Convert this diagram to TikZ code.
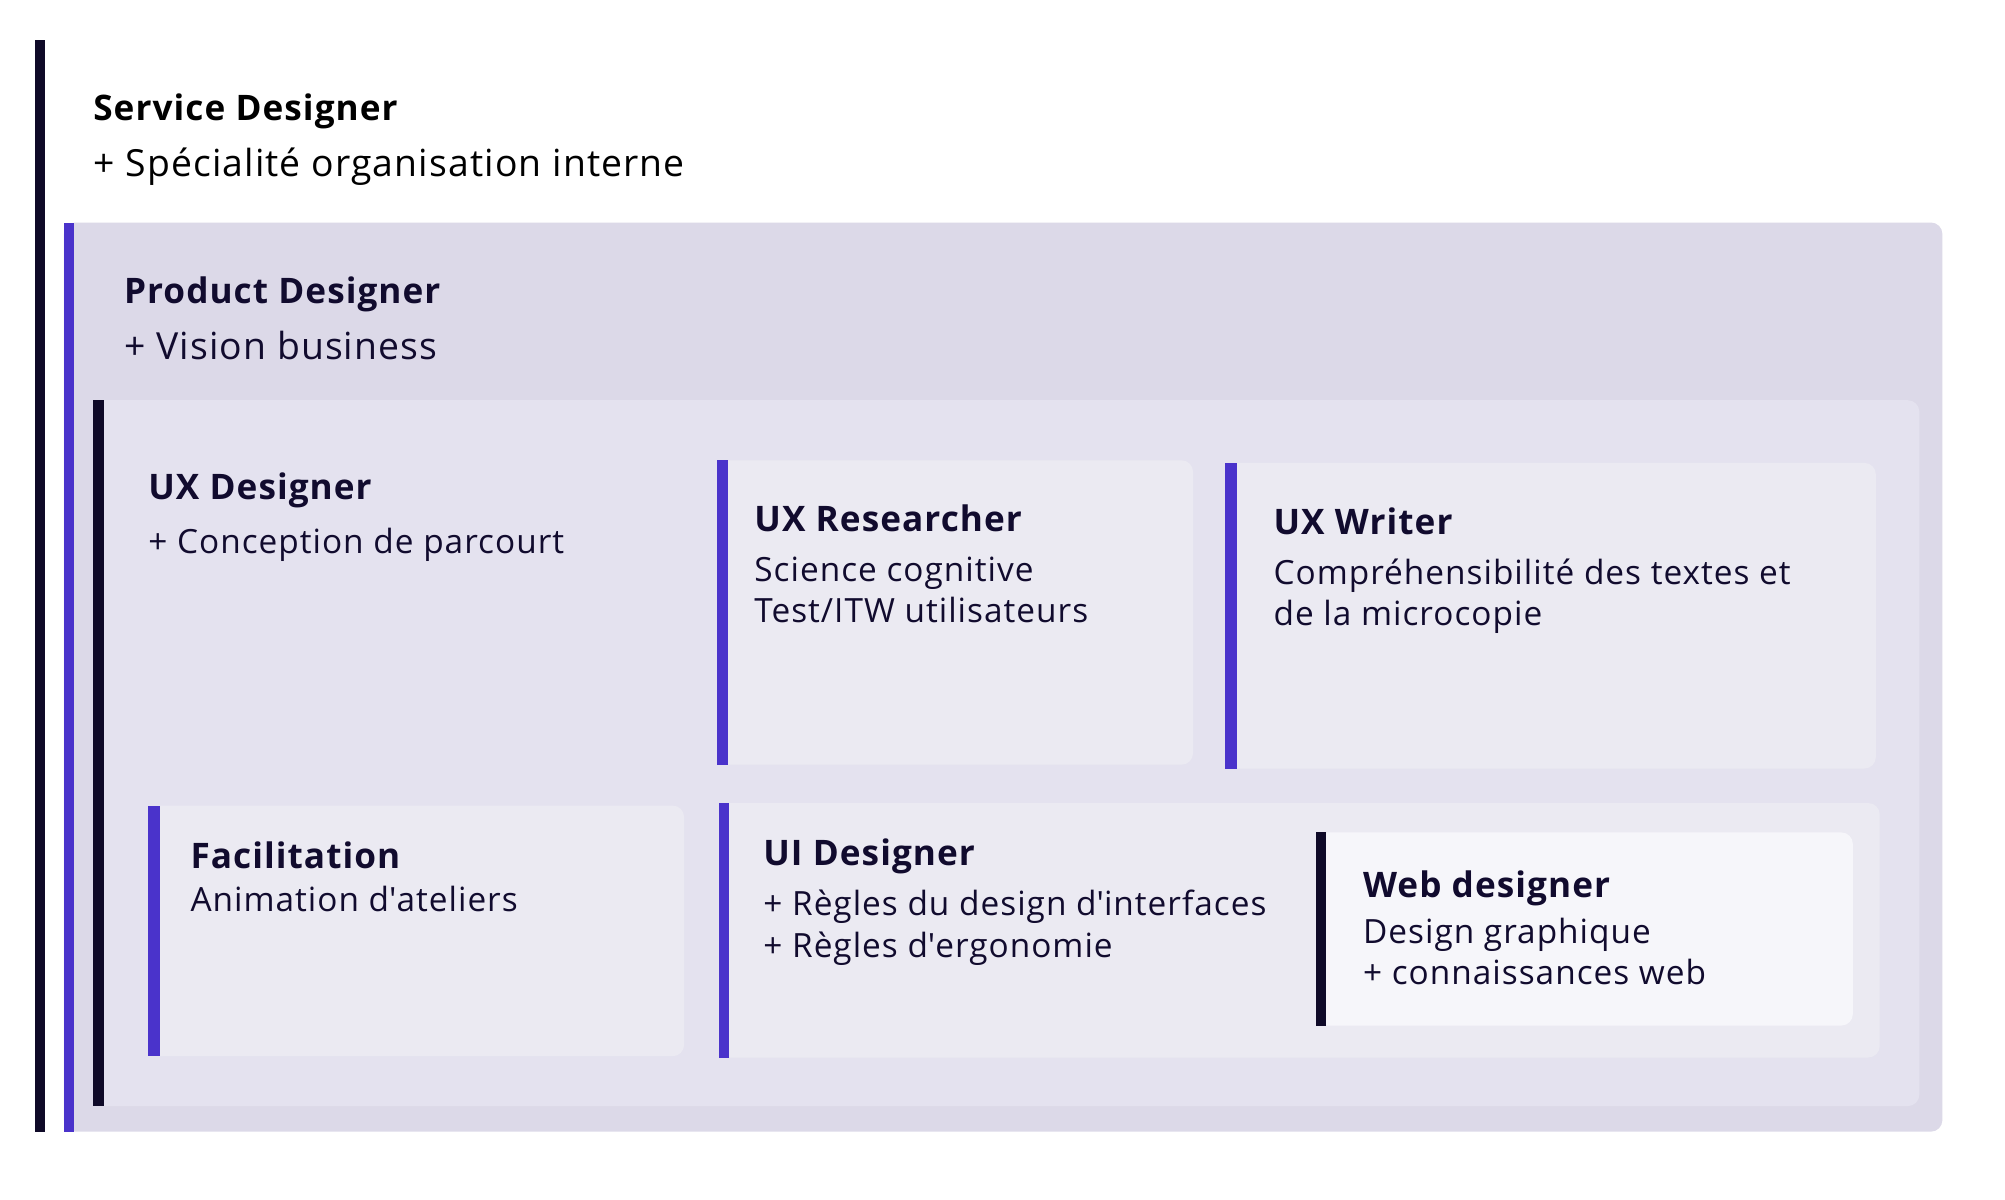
\documentclass[tikz,border=0pt]{standalone}
\usepackage{fontspec}
\setmainfont{Open Sans}[Ligatures={NoCommon}, LetterSpace=3]
\definecolor{ink}{HTML}{110B2E}
\definecolor{barink}{HTML}{0F0A28}
\definecolor{barpurple}{HTML}{4A33CB}
\definecolor{prodfill}{HTML}{DCD9E8}
\definecolor{uxfill}{HTML}{E4E2EF}
\definecolor{cardfill}{HTML}{EBEAF2}
\definecolor{webfill}{HTML}{F6F6FA}
\newcommand{\apos}{\textquotesingle}
\begin{document}
\begin{tikzpicture}[x=1pt,y=-1pt,
  every node/.style={inner sep=0pt, outer sep=0pt, text=ink},
  ttl/.style={anchor=base west, font=\fontsize{27.5}{32}\selectfont\bfseries},
  bigtxt/.style={anchor=base west, font=\fontsize{29.2}{34}\selectfont},
  txt/.style={anchor=base west, font=\fontsize{26.1}{30}\selectfont},
  panel/.style={anchor=north west, rounded corners=9pt, fill=#1},
  purplebar/.style={fill=barpurple},
  darkbar/.style={fill=barink}]
\useasboundingbox[fill=white] (0,0) rectangle (1568,938);

% Service designer
\fill[darkbar] (27,31) rectangle (35,885);
\node[ttl, text=black] (svcT) at (73,94) {Service Designer};
\node[bigtxt, text=black] (svcB) at (73,138) {+ Spécialité organisation interne};

% Product designer
\node[panel=prodfill, minimum width=1469pt, minimum height=711pt] (prod) at (50,174) {};
\fill[purplebar] (prod.north west) rectangle ([xshift=8pt]prod.south west);
\node[ttl] (prodT) at (97,237) {Product Designer};
\node[bigtxt] (prodB) at (97,281) {+ Vision business};

% UX designer
\node[panel=uxfill, minimum width=1428pt, minimum height=552pt] (ux) at (73,313) {};
\fill[darkbar] (ux.north west) rectangle ([xshift=8pt]ux.south west);
\node[ttl] (uxT) at (116,391) {UX Designer};
\node[txt] (uxB) at (116,433) {+ Conception de parcourt};

% UX researcher
\node[panel=cardfill, minimum width=372pt, minimum height=238pt] (res) at (561,360) {};
\fill[purplebar] (res.north west) rectangle ([xshift=8pt]res.south west);
\node[ttl] (resT) at (590,416) {UX Researcher};
\node[txt] (resB1) at (590,455) {Science cognitive};
\node[txt] (resB2) at (590,487) {Test/ITW utilisateurs};

% UX writer
\node[panel=cardfill, minimum width=509pt, minimum height=239pt] (wri) at (958,362) {};
\fill[purplebar] (wri.north west) rectangle ([xshift=9pt]wri.south west);
\node[ttl] (wriT) at (996,418) {UX Writer};
\node[txt] (wriB1) at (996,457) {Compréhensibilité des textes et};
\node[txt] (wriB2) at (996,489) {de la microcopie};

% Facilitation
\node[panel=cardfill, minimum width=419pt, minimum height=196pt] (fac) at (116,630) {};
\fill[purplebar] (fac.north west) rectangle ([xshift=9pt]fac.south west);
\node[ttl] (facT) at (149,679) {Facilitation};
\node[txt] (facB) at (149,713) {Animation d\apos ateliers};

% UI designer
\node[panel=cardfill, minimum width=908pt, minimum height=199pt] (ui) at (562,628) {};
\fill[purplebar] (ui.north west) rectangle ([xshift=8pt]ui.south west);
\node[ttl] (uiT) at (597,677) {UI Designer};
\node[txt] (uiB1) at (597,716) {+ Règles du design d\apos interfaces};
\node[txt] (uiB2) at (597,749) {+ Règles d\apos ergonomie};

% Web designer
\node[panel=webfill, minimum width=420pt, minimum height=151pt] (web) at (1029,651) {};
\fill[darkbar] (web.north west) rectangle ([xshift=8pt]web.south west);
\node[ttl] (webT) at (1066,702) {Web designer};
\node[txt] (webB1) at (1066,738) {Design graphique};
\node[txt] (webB2) at (1066,770) {+ connaissances web};
\end{tikzpicture}
\end{document}
